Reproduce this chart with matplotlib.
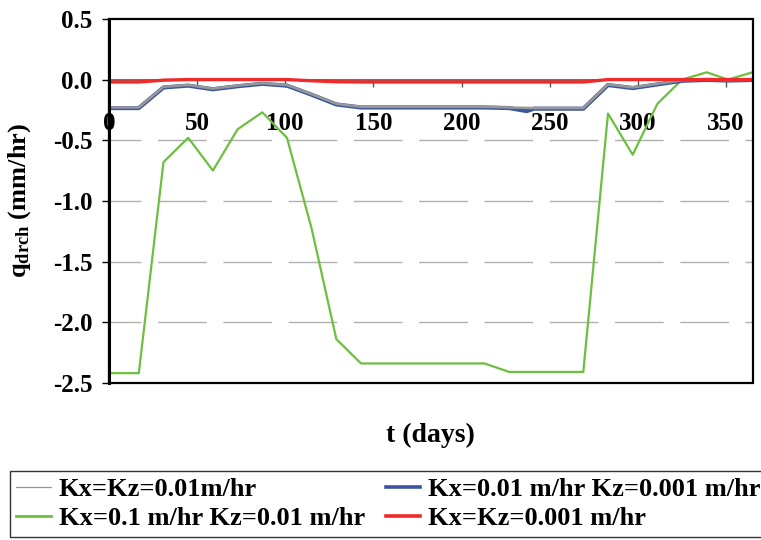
import matplotlib.pyplot as plt
from matplotlib.lines import Line2D
from matplotlib.patches import Rectangle

plt.rcParams['font.family'] = 'Liberation Serif'
plt.rcParams['font.weight'] = 'bold'
plt.rcParams['mathtext.fontset'] = 'custom'
plt.rcParams['mathtext.rm'] = 'Liberation Serif:bold'
plt.rcParams['mathtext.bf'] = 'Liberation Serif:bold'

# days
t = [0, 17, 31, 45, 59, 73, 87, 101, 115, 129, 143, 157, 171, 185, 199, 213,
     227, 241, 255, 269, 283, 297, 311, 325, 339, 351, 365]

q_gray = [-0.23, -0.23, -0.06, -0.045, -0.075, -0.05, -0.03, -0.045, -0.12, -0.2,
          -0.225, -0.225, -0.225, -0.225, -0.225, -0.225, -0.23, -0.235, -0.235,
          -0.235, -0.04, -0.065, -0.035, -0.005, 0.0, -0.005, 0.0]
t_blue = [0, 17, 31, 45, 59, 73, 87, 101, 115, 129, 143, 157, 171, 185, 199, 213,
          227, 237, 241, 255, 269, 283, 297, 311, 325, 339, 351, 365]
q_blue = [-0.235, -0.235, -0.065, -0.05, -0.08, -0.055, -0.035, -0.05, -0.125, -0.205,
          -0.23, -0.23, -0.23, -0.23, -0.23, -0.23, -0.235, -0.26, -0.24, -0.24,
          -0.24, -0.045, -0.07, -0.04, -0.01, -0.003, -0.008, -0.003]
q_green = [-2.42, -2.42, -0.68, -0.48, -0.75, -0.41, -0.27, -0.48, -1.23, -2.14,
           -2.34, -2.34, -2.34, -2.34, -2.34, -2.34, -2.41, -2.41, -2.41, -2.41,
           -0.28, -0.62, -0.2, 0.0, 0.06, 0.0, 0.06]
q_red = [-0.02, -0.02, -0.005, 0.0, 0.0, 0.0, 0.0, 0.0, -0.01, -0.018, -0.02, -0.02,
         -0.02, -0.02, -0.02, -0.02, -0.02, -0.02, -0.02, -0.02, 0.0, 0.0, 0.0,
         0.0, 0.0, 0.0, 0.0]

labels = ['Kx=Kz=0.01m/hr', 'Kx=0.1 m/hr Kz=0.01 m/hr',
          'Kx=0.01 m/hr Kz=0.001 m/hr', 'Kx=Kz=0.001 m/hr']

c_gray, c_blue, c_green, c_red = '#989898', '#3a55a4', '#6cbf3f', '#ee2a2a'

fig = plt.figure(figsize=(7.61, 5.40), dpi=100)
ax = fig.add_axes([0.143, 0.291, 0.846, 0.674])

for y in [-0.5, -1.0, -1.5, -2.0]:
    ax.axhline(y, color='#b0b0b0', lw=1, ls=(12, (35, 12)), zorder=1)

ax.plot(t, q_green, color=c_green, lw=1.6, zorder=3)
ax.plot(t_blue, q_blue, color=c_blue, lw=3.0, zorder=4)
ax.plot(t, q_gray, color=c_gray, lw=1.8, zorder=5)
ax.plot(t, q_red, color=c_red, lw=2.4, zorder=6)

ax.set_xlim(0, 365)
ax.set_ylim(-2.5, 0.5)
ax.set_xticks(range(0, 351, 50))
ax.set_yticks([0.5, 0.0, -0.5, -1.0, -1.5, -2.0, -2.5])
ax.set_yticklabels(['0.5', '0.0', '-0.5', '-1.0', '-1.5', '-2.0', '-2.5'])

ax.spines['bottom'].set_position(('data', 0))
ax.spines['bottom'].set_color('#555555')
ax.spines['bottom'].set_linewidth(1.2)
for s in ['top', 'right', 'left']:
    ax.spines[s].set_visible(False)
ax.add_patch(Rectangle((0, 0), 1, 1, transform=ax.transAxes, fill=False,
                       edgecolor='black', lw=1.6, clip_on=False, zorder=10))
ax.plot([0, 0], [0, 1], transform=ax.transAxes, color='black', lw=2.2,
        clip_on=False, zorder=11)

ax.tick_params(axis='x', direction='out', length=5, width=1, color='#555555',
               labelsize=18, pad=18)
ax.tick_params(axis='y', direction='out', length=5, width=1, color='black',
               labelsize=18, pad=7)
for lab in ax.get_xticklabels() + ax.get_yticklabels():
    lab.set_fontweight('bold')

ax.set_ylabel(r'$\mathrm{q_{drch}}$ (mm/hr)', fontsize=19, fontweight='bold')
ax.yaxis.set_label_coords(-0.118, 0.5)
ax.set_xlabel('t (days)', fontsize=20, fontweight='bold')
ax.xaxis.set_label_coords(0.5, -0.11)

handles = [Line2D([], [], color=c_gray, lw=0.9),
           Line2D([], [], color=c_green, lw=2.0),
           Line2D([], [], color=c_blue, lw=2.6),
           Line2D([], [], color=c_red, lw=2.6)]
leg = fig.legend(handles, labels, ncol=2, loc='lower left', mode='expand',
                 bbox_to_anchor=(0.013, 0.006, 0.995, 0.135),
                 prop={'family': 'Liberation Serif', 'weight': 'bold', 'size': 19},
                 frameon=True, fancybox=False, edgecolor='black',
                 handlelength=1.3, handletextpad=0.3, borderaxespad=0,
                 labelspacing=0.2, borderpad=0.25)
leg.get_frame().set_linewidth(1.0)

fig.savefig('out.png', dpi=100)
